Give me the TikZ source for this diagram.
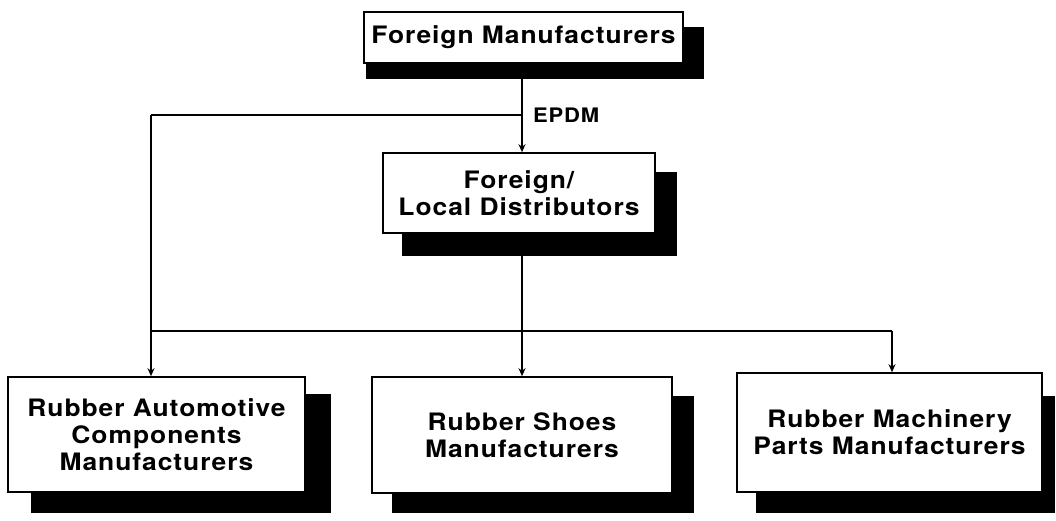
\documentclass[tikz,border=0pt]{standalone}
\usepackage{fontspec}
\setmainfont{TeX Gyre Heros}[FakeStretch=1.1,LetterSpace=4]
\usetikzlibrary{arrows.meta,calc}
\tikzset{
  box/.style={draw=black,line width=1.6pt,fill=white,align=center,
    font=\fontsize{24}{27}\selectfont\bfseries,inner sep=0pt},
  conn/.style={line width=2.6pt},
  arr/.style={conn,-{Stealth[length=8pt,width=7pt]}},
  lbl/.style={font=\fontsize{20}{22}\selectfont\bfseries,anchor=west,inner sep=0pt}
}
\newcommand{\shadowbox}[5]{%
  \fill[black] ($(#1.south west)+(#2,#5)$) rectangle ($(#1.north east)+(#4,#3)$);}
\begin{document}
\begin{tikzpicture}[x=1pt,y=-1pt]
\useasboundingbox (0,0) rectangle (1056,521);
\path
  node[box,minimum width=319pt,minimum height=51pt] (fm) at (523.5,37.5) {}
  node[box,minimum width=272pt,minimum height=80pt] (fd) at (519,193) {}
  node[box,minimum width=297pt,minimum height=115pt] (ra) at (156.5,434.5) {}
  node[box,minimum width=300pt,minimum height=116pt] (rs) at (522,435) {}
  node[box,minimum width=305pt,minimum height=119pt] (rm) at (889.5,432.5) {};
\coordinate (j1) at (522,115);
\coordinate (j2) at (151,115);
\coordinate (j3) at (151,331);
\coordinate (j4) at (522,331);
\coordinate (j5) at (892,331);
% connectors
\draw[conn] (j2) -- (j1);
\draw[arr] (fm.south -| j1) -- (fd.north -| j1);
\draw[conn] (j2) -- (j3) -- (j5);
\draw[conn] (fd.south -| j4) -- (j4);
\draw[arr] (j3) -- (j3 |- ra.north);
\draw[arr] (j4) -- (j4 |- rs.north);
\draw[arr] (j5) -- (j5 |- rm.north);
\node[lbl] (epdm) at (533,115) {EPDM};
% shadows
\shadowbox{fm}{3}{16}{20}{15}
\shadowbox{fd}{20}{20}{21}{22}
\shadowbox{ra}{24}{18}{25}{20}
\shadowbox{rs}{21}{20}{21}{19}
\shadowbox{rm}{20}{24}{12}{20}
% boxes on top
\node[box,minimum width=319pt,minimum height=51pt] (fmt) at (fm) {Foreign Manufacturers};
\node[box,minimum width=272pt,minimum height=80pt] (fdt) at (fd) {Foreign/\\Local Distributors};
\node[box,minimum width=297pt,minimum height=115pt] (rat) at (ra) {Rubber Automotive\\Components\\Manufacturers};
\node[box,minimum width=300pt,minimum height=116pt] (rst) at (rs) {Rubber Shoes\\Manufacturers};
\node[box,minimum width=305pt,minimum height=119pt] (rmt) at (rm) {Rubber Machinery\\Parts Manufacturers};
\end{tikzpicture}
\end{document}
